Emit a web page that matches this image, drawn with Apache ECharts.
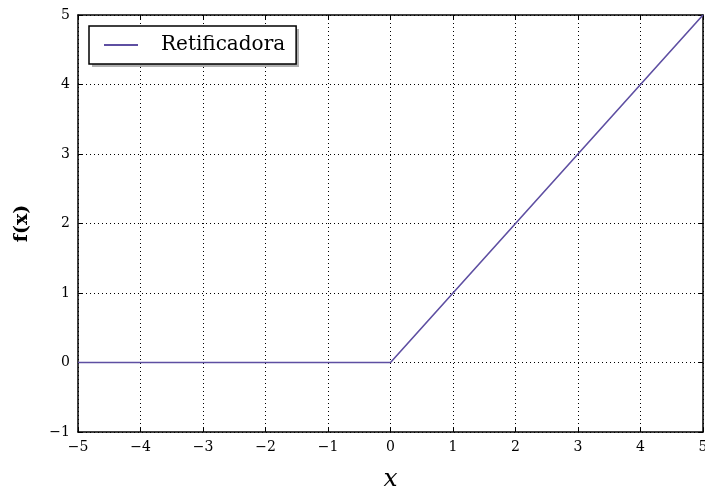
<!DOCTYPE html>
<html>
<head>
<meta charset="utf-8">
<script src="https://cdn.jsdelivr.net/npm/echarts@6/dist/echarts.min.js"></script>
<style>
  html, body { margin: 0; padding: 0; background: #fff; }
  #chart { width: 705px; height: 492px; }
</style>
</head>
<body>
<div id="chart"></div>
<script>
// Rectifier (ReLU) function: f(x) = max(0, x)
const xValues = [-5, 0, 5];
const yValues = [0, 0, 5];
const seriesName = 'Retificadora';

const serif = '"DejaVu Serif", "Liberation Serif", serif';
const minus = v => String(v).replace('-', '\u2212');

const chart = echarts.init(document.getElementById('chart'), null, { renderer: 'canvas' });

const axisLineStyle = { show: true, onZero: false, lineStyle: { color: '#000', width: 1.5 } };
const tickStyle = { show: true, inside: true, length: 5, lineStyle: { color: '#000', width: 1 } };
const gridStyle = { show: true, lineStyle: { color: '#000', width: 1, type: [1, 3] } };

chart.setOption({
  animation: false,
  backgroundColor: '#fff',
  grid: { left: 78, right: 2, top: 15, bottom: 60, containLabel: false, outerBoundsMode: 'none' },
  // drop shadow behind the legend box
  graphic: [{
    type: 'rect', left: 92, top: 29, z: 99,
    shape: { width: 207, height: 38 },
    style: { fill: '#b0b0b0' }
  }],
  legend: {
    left: 89, top: 26, z: 100,
    itemWidth: 34, itemHeight: 12, itemGap: 10,
    padding: [9, 11, 9, 15],
    backgroundColor: '#fff',
    borderColor: '#000', borderWidth: 1.5, borderRadius: 0,
    textStyle: { fontFamily: serif, fontSize: 20, color: '#000', padding: [0, 0, 0, 18] },
    data: [{ name: seriesName, icon: 'path://M0,0 L34,0 L34,2 L0,2 Z' }]
  },
  xAxis: [
    {
      type: 'value', min: -5, max: 5, interval: 1, position: 'bottom',
      name: 'x', nameLocation: 'middle', nameGap: 35,
      nameTextStyle: { fontFamily: serif, fontStyle: 'italic', fontSize: 25, color: '#000' },
      axisLine: axisLineStyle, axisTick: tickStyle, splitLine: gridStyle,
      axisLabel: { fontFamily: serif, fontSize: 14, color: '#000', margin: 8, formatter: minus }
    },
    {
      type: 'value', min: -5, max: 5, interval: 1, position: 'top',
      axisLine: axisLineStyle, axisTick: tickStyle, splitLine: { show: false },
      axisLabel: { show: false }
    }
  ],
  yAxis: [
    {
      type: 'value', min: -1, max: 5, interval: 1, position: 'left',
      name: 'f(x)', nameLocation: 'middle', nameGap: 46,
      nameTextStyle: { fontFamily: serif, fontWeight: 'bold', fontSize: 19, color: '#000' },
      axisLine: axisLineStyle, axisTick: tickStyle, splitLine: gridStyle,
      axisLabel: { fontFamily: serif, fontSize: 14, color: '#000', margin: 8, formatter: minus }
    },
    {
      type: 'value', min: -1, max: 5, interval: 1, position: 'right',
      axisLine: axisLineStyle, axisTick: tickStyle, splitLine: { show: false },
      axisLabel: { show: false }
    }
  ],
  series: [{
    name: seriesName,
    type: 'line',
    data: xValues.map((x, i) => [x, yValues[i]]),
    showSymbol: false,
    lineStyle: { color: '#5e4fa2', width: 1.6 },
    itemStyle: { color: '#5e4fa2' },
    z: 5
  }]
});
</script>
</body>
</html>
